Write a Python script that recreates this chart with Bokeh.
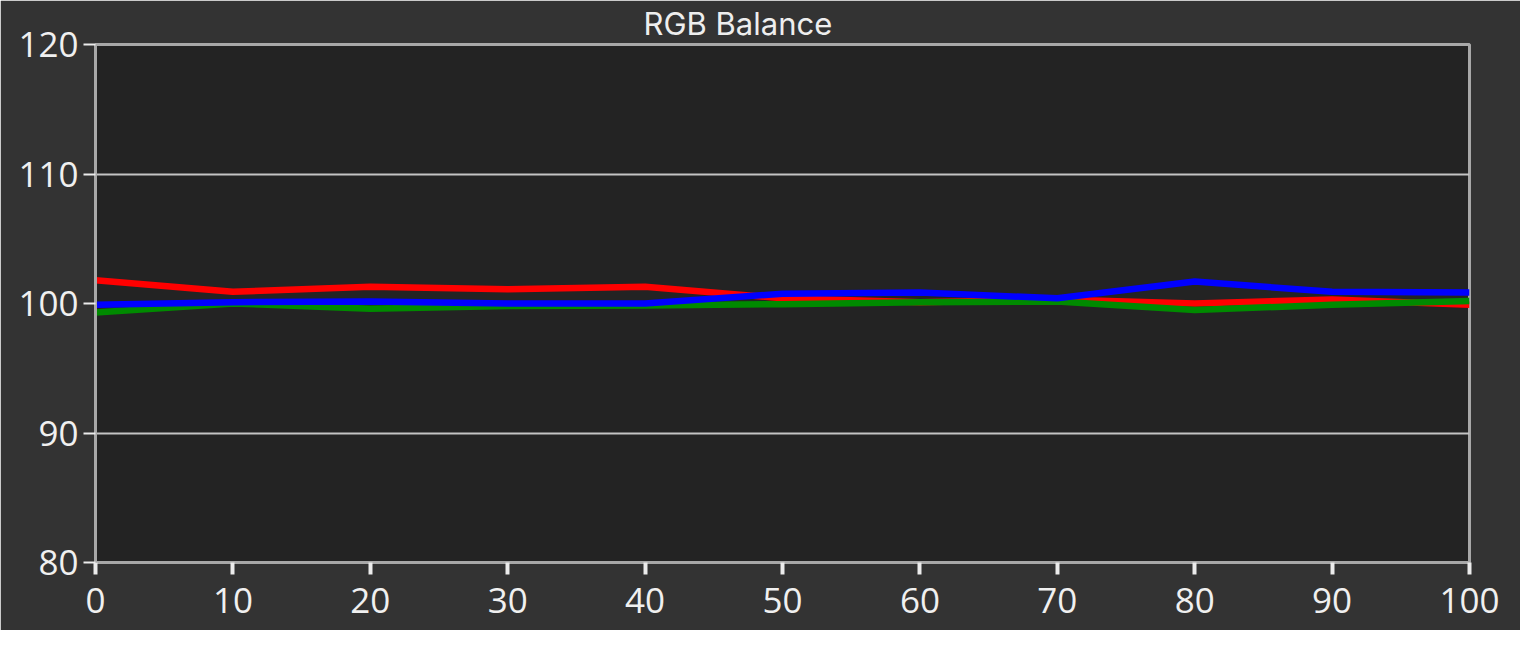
from bokeh.plotting import figure
from bokeh.models import Range1d, FixedTicker
from bokeh.embed import file_html
from bokeh.resources import INLINE

levels = [0, 10, 20, 30, 40, 50, 60, 70, 80, 90, 100]
red = [101.8, 100.9, 101.3, 101.1, 101.3, 100.4, 100.1, 100.3, 100.0, 100.3, 99.9]
green = [99.3, 100.0, 99.6, 99.8, 99.85, 99.95, 100.1, 100.15, 99.5, 99.9, 100.2]
blue = [99.9, 100.1, 100.15, 100.0, 100.0, 100.75, 100.85, 100.4, 101.7, 100.9, 100.85]
y_ticks = [80, 90, 100, 110, 120]
title_text = "RGB Balance"

p = figure(width=1520, height=630, output_backend="svg", toolbar_location=None,
           x_range=Range1d(0, 100), y_range=Range1d(80, 120),
           min_border_left=95, min_border_right=51, min_border_top=44, min_border_bottom=68,
           background_fill_color="#232323", border_fill_color="#333333")

p.title.text = title_text
p.title.align = "left"
p.title.offset = 548
p.title.text_color = "#eeeeee"
p.title.text_font = "Inter"
p.title.text_font_size = "31px"
p.title.text_font_style = "normal"
p.title.standoff = 5

p.outline_line_color = "#a8a8a8"
p.outline_line_width = 3
p.outline_line_alpha = 1

for ax in (p.xaxis[0], p.yaxis[0]):
    ax.axis_line_color = "#a8a8a8"
    ax.axis_line_width = 3
    ax.major_tick_line_color = "#ececec"
    ax.major_tick_out = 12
    ax.major_tick_in = 0
    ax.minor_tick_line_color = None
    ax.major_label_text_color = "#f0f0f0"
    ax.major_label_text_font = "Open Sans"
    ax.major_label_text_font_size = "35px"

p.xaxis[0].ticker = FixedTicker(ticks=levels)
p.yaxis[0].ticker = FixedTicker(ticks=y_ticks)
p.xaxis[0].major_tick_line_width = 4
p.yaxis[0].major_tick_line_width = 2
p.xaxis[0].major_label_standoff = 13
p.yaxis[0].major_label_standoff = 5

p.xgrid.grid_line_color = None
p.ygrid.ticker = FixedTicker(ticks=[90, 100, 110])
p.ygrid.grid_line_color = "#c4c4c4"
p.ygrid.grid_line_width = 2

p.line(levels, red, line_color="#ff0000", line_width=6.5)
p.line(levels, green, line_color="#008a00", line_width=6.5)
p.line(levels, blue, line_color="#0000ff", line_width=6.5)

open("out.html", "w").write(file_html(p, INLINE))
